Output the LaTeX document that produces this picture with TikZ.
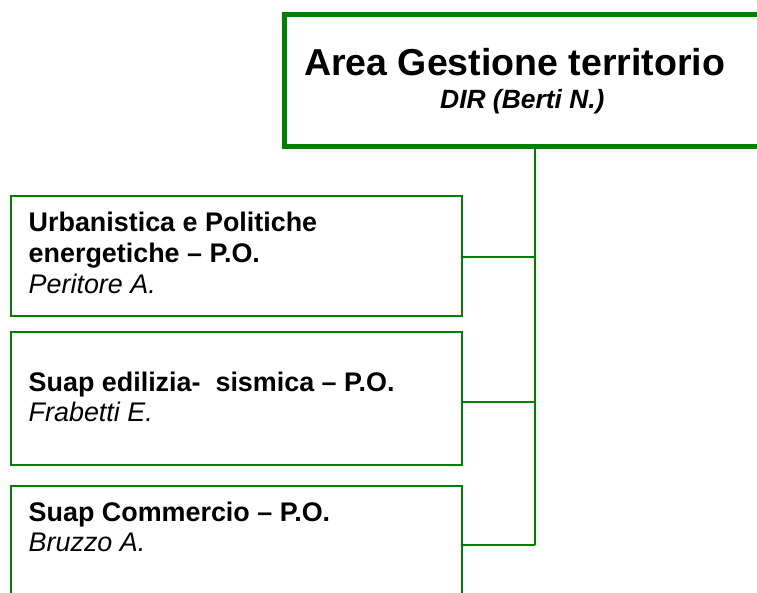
\documentclass[tikz,border=0pt]{standalone}
\usepackage{fontspec}
\setmainfont{Liberation Sans}
\definecolor{orgreen}{HTML}{008000}
\begin{document}
\begin{tikzpicture}[x=1bp,y=-1bp,
  topbox/.style={draw=orgreen, line width=4.5bp, inner sep=0pt, minimum width=502bp, minimum height=131.5bp, anchor=north west},
  unitbox/.style={draw=orgreen, line width=2.3bp, inner sep=0pt, minimum width=450.5bp, anchor=north west},
  conn/.style={draw=orgreen, line width=1.8bp},
  titleline/.style={font=\fontsize{37.5bp}{40bp}\selectfont\bfseries, inner sep=0pt, anchor=base west},
  headline/.style={font=\fontsize{26.4bp}{30bp}\selectfont\bfseries\itshape, inner sep=0pt, anchor=base west},
  boldline/.style={font=\fontsize{26.9bp}{30bp}\selectfont\bfseries, inner sep=0pt, anchor=base west},
  nameline/.style={font=\fontsize{26.9bp}{30bp}\selectfont\itshape, inner sep=0pt, anchor=base west}]
\useasboundingbox (0,0) rectangle (757,593);
\clip (0,0) rectangle (757,593);
\fill[white] (0,0) rectangle (757,593);

% boxes
\node[topbox] (top) at (282,12.5) {};
\node[unitbox, minimum height=119.5bp] (b1) at (10,195) {};
\node[unitbox, minimum height=133bp] (b2) at (10,331) {};
\node[unitbox, minimum height=120bp] (b3) at (10,485) {};

% texts
\node[titleline] (t1) at (304,76) {Area Gestione territorio};
\node[headline] (t2) at (440,108.3) {DIR (Berti N.)};

\node[boldline] (u1) at (28.5,231.7) {Urbanistica e Politiche};
\node[boldline] (u2) at (28.5,262) {energetiche – P.O.};
\node[nameline] (u3) at (28.5,293) {Peritore A.};

\node[boldline] (s1) at (28.5,391) {Suap edilizia-\ \ sismica – P.O.};
\node[nameline] (s2) at (28.5,421.5) {Frabetti E.};

\node[boldline] (c1) at (28.5,521) {Suap Commercio – P.O.};
\node[nameline] (c2) at (28.5,551.5) {Bruzzo A.};

% connectors
\coordinate (j1) at (top.south |- 0,256.7);
\coordinate (j2) at (top.south |- 0,402);
\coordinate (j3) at (top.south |- 0,545.3);
\draw[conn] (top.south) -- (j3);
\draw[conn] (j1) -- (j1 -| b1.east);
\draw[conn] (j2) -- (j2 -| b2.east);
\draw[conn] (j3) -- (j3 -| b3.east);
\end{tikzpicture}
\end{document}
